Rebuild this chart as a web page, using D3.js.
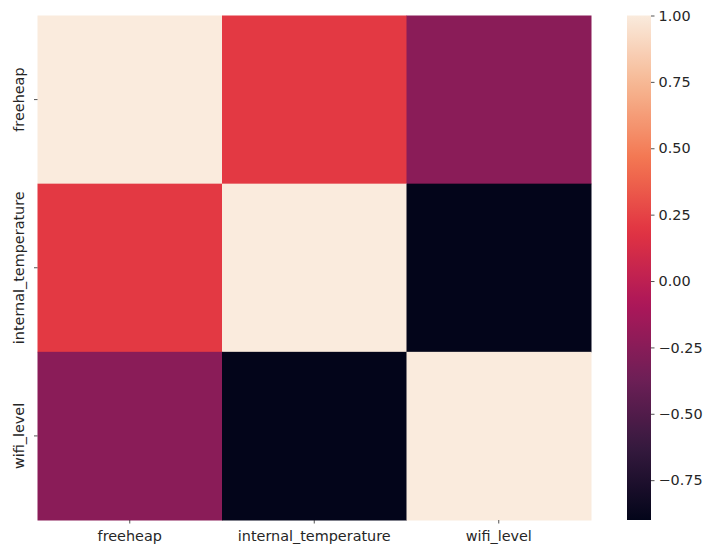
<!DOCTYPE html>
<html>
<head>
<meta charset="utf-8">
<script src="https://cdn.jsdelivr.net/npm/d3@7"></script>
<style>
  body { margin: 0; background: #fff; }
  text { font-family: "DejaVu Sans", sans-serif; fill: #262626; }
</style>
</head>
<body>
<div id="chart"></div>
<script>
// Variables (row and column order)
const variables = ["freeheap", "internal_temperature", "wifi_level"];

// Correlation matrix, one row per variable
const rowFreeheap = [1.00, 0.21, -0.24];
const rowInternalTemp = [0.21, 1.00, -0.90];
const rowWifiLevel = [-0.24, -0.90, 1.00];
const corrRows = [rowFreeheap, rowInternalTemp, rowWifiLevel];

// Colorbar ticks
const cbarTicks = [1.00, 0.75, 0.50, 0.25, 0.00, -0.25, -0.50, -0.75];

// rocket colormap stops
const rocketStops = ["#03051a", "#35193e", "#701f57", "#ad1759", "#e13342", "#f37651", "#f6b48f", "#faebdd"];

const width = 716, height = 557;
const hm = { left: 37.5, top: 15.5, right: 591, bottom: 520 };
const cb = { left: 627, right: 651 };
const fontSize = "14.4px";

const svg = d3.select("#chart").append("svg")
    .attr("width", width)
    .attr("height", height);

const cells = [];
corrRows.forEach((row, i) => row.forEach((v, j) => cells.push({ r: variables[i], c: variables[j], v: v })));

const vmin = d3.min(cells, d => d.v), vmax = d3.max(cells, d => d.v);

const rocket = d3.scaleLinear()
    .domain(rocketStops.map((_, i) => i / (rocketStops.length - 1)))
    .range(rocketStops)
    .interpolate(d3.interpolateRgb);
const color = v => rocket((v - vmin) / (vmax - vmin));

const x = d3.scaleBand().domain(variables).range([hm.left, hm.right]);
const y = d3.scaleBand().domain(variables).range([hm.top, hm.bottom]);

// Draw cells
svg.append("g").selectAll("rect")
    .data(cells)
    .join("rect")
    .attr("x", d => x(d.c))
    .attr("y", d => y(d.r))
    .attr("width", x.bandwidth() + 0.5)
    .attr("height", y.bandwidth() + 0.5)
    .attr("fill", d => color(d.v));

// X axis
const xAxis = svg.append("g")
    .attr("transform", `translate(0, ${hm.bottom})`)
    .call(d3.axisBottom(x).tickSize(3.5).tickPadding(5));
xAxis.select(".domain").remove();
xAxis.selectAll("line").attr("stroke", "#262626").attr("stroke-width", 0.8);
xAxis.selectAll("text").style("font-size", fontSize).attr("fill", "#262626").attr("dy", "0.85em");

// Y axis
const yAxis = svg.append("g")
    .attr("transform", `translate(${hm.left}, 0)`)
    .call(d3.axisLeft(y).tickSize(3.5).tickPadding(5));
yAxis.select(".domain").remove();
yAxis.selectAll("line").attr("stroke", "#262626").attr("stroke-width", 0.8);
yAxis.selectAll("text")
    .style("font-size", fontSize)
    .attr("fill", "#262626")
    .attr("text-anchor", "middle")
    .attr("x", 0).attr("dy", 0)
    .attr("transform", "translate(-13.5, 0) rotate(-90)");

// Colorbar
const cy = d3.scaleLinear().domain([vmin, vmax]).range([hm.bottom, hm.top]);
const grad = svg.append("defs").append("linearGradient")
    .attr("id", "cbar")
    .attr("x1", 0).attr("y1", 1).attr("x2", 0).attr("y2", 0);
d3.range(0, 1.0001, 0.02).forEach(t => {
    grad.append("stop").attr("offset", t).attr("stop-color", rocket(t));
});
svg.append("rect")
    .attr("x", cb.left)
    .attr("y", hm.top)
    .attr("width", cb.right - cb.left)
    .attr("height", hm.bottom - hm.top)
    .attr("fill", "url(#cbar)");

const cAxis = svg.append("g")
    .attr("transform", `translate(${cb.right}, 0)`)
    .call(d3.axisRight(cy).tickValues(cbarTicks).tickFormat(d => d3.format(".2f")(d).replace("-", "\u2212")).tickSize(3.5).tickPadding(4));
cAxis.select(".domain").remove();
cAxis.selectAll("line").attr("stroke", "#262626").attr("stroke-width", 0.8);
cAxis.selectAll("text").style("font-size", fontSize).attr("fill", "#262626");
</script>
</body>
</html>
